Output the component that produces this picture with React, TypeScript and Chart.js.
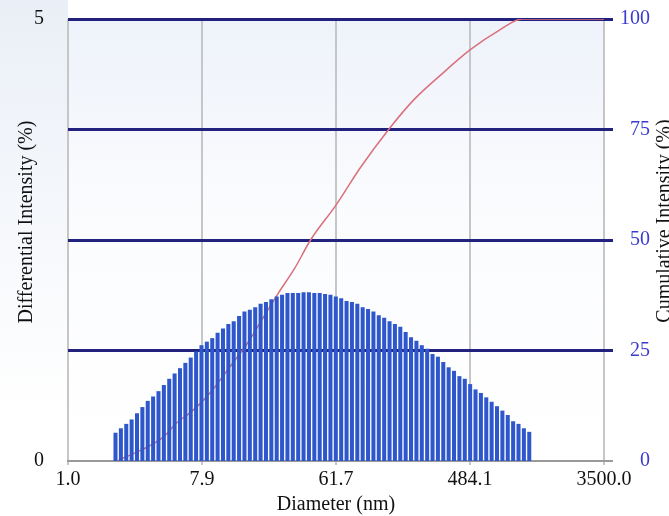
import React, { useEffect, useRef } from 'react';
import { Chart, registerables } from 'chart.js';

Chart.register(...registerables);

// ---- data ----
const xTickLabels = ['1.0', '7.9', '61.7', '484.1', '3500.0'];
const xTickPositions = [0, 1, 2, 3, 4];
const leftTicks = [0, 5];
const rightTicks = [0, 25, 50, 75, 100];

// bin grid (position on the diameter axis, in axis tick units)
const firstBinPos = 0.3545;
const binStep = 0.0401;

// differential intensity (%) of each bin
const differential = [
  0.32, 0.37, 0.42, 0.47, 0.54, 0.61, 0.68, 0.73, 0.79, 0.86,
  0.93, 0.99, 1.05, 1.11, 1.17, 1.24, 1.31, 1.35, 1.39, 1.45,
  1.50, 1.55, 1.58, 1.64, 1.69, 1.71, 1.74, 1.78, 1.80, 1.83,
  1.86, 1.88, 1.90, 1.90, 1.90, 1.91, 1.91, 1.90, 1.90, 1.89,
  1.88, 1.86, 1.84, 1.81, 1.80, 1.78, 1.74, 1.72, 1.69, 1.65,
  1.62, 1.58, 1.55, 1.52, 1.46, 1.40, 1.36, 1.31, 1.27, 1.21,
  1.18, 1.12, 1.06, 1.02, 0.96, 0.93, 0.87, 0.81, 0.77, 0.72,
  0.67, 0.62, 0.57, 0.52, 0.45, 0.42, 0.37, 0.33,
];

// cumulative intensity (%) curve
const cumPos = [0.37, 0.43, 0.55, 0.71, 0.81, 0.91, 0.99, 1.08, 1.19, 1.34, 1.46, 1.57, 1.69, 1.81, 2.0, 2.18, 2.39, 2.58, 2.78, 3.0, 3.22, 3.39, 4.0];
const cumulative = [0, 0.9, 2.5, 5.4, 8.6, 10.9, 13.1, 16.1, 20.6, 26.7, 32.6, 38.0, 43.5, 50.0, 57.9, 66.3, 74.9, 81.7, 87.3, 93.0, 97.5, 100, 100];

const xTitle = 'Diameter (nm)';
const leftTitle = 'Differential Intensity (%)';
const rightTitle = 'Cumulative Intensity (%)';

const FONT_FAMILY = "'Liberation Serif', 'Times New Roman', serif";

const decorPlugin = {
  id: 'decor',
  beforeDraw(chart: any) {
    const { ctx, width, height, chartArea } = chart;
    ctx.save();
    ctx.fillStyle = '#ffffff';
    ctx.fillRect(0, 0, width, height);
    const g1 = ctx.createLinearGradient(0, 0, 0, height * 0.8);
    g1.addColorStop(0, '#eaeff7');
    g1.addColorStop(1, '#ffffff');
    ctx.fillStyle = g1;
    ctx.fillRect(0, 0, 68, height * 0.8);
    const g2 = ctx.createLinearGradient(0, chartArea.top, 0, chartArea.bottom);
    g2.addColorStop(0, '#eef2fa');
    g2.addColorStop(0.45, '#fbfcfe');
    g2.addColorStop(1, '#ffffff');
    ctx.fillStyle = g2;
    ctx.fillRect(chartArea.left, chartArea.top, chartArea.right - chartArea.left, chartArea.bottom - chartArea.top);
    ctx.restore();
  },
  afterDraw(chart: any) {
    const { ctx, chartArea } = chart;
    ctx.save();
    ctx.font = `20px ${FONT_FAMILY}`;
    ctx.fillStyle = '#111111';
    ctx.textAlign = 'center';
    ctx.textBaseline = 'middle';
    ctx.fillText(xTitle, (chartArea.left + chartArea.right) / 2, 505);

    ctx.save();
    ctx.translate(27, 222);
    ctx.rotate(-Math.PI / 2);
    ctx.fillText(leftTitle, 0, 0);
    ctx.restore();

    ctx.save();
    ctx.translate(670, 221);
    ctx.rotate(-Math.PI / 2);
    ctx.textBaseline = 'alphabetic';
    ctx.fillText(rightTitle, 0, 0);
    ctx.restore();
    ctx.restore();
  },
};

export default function App() {
  const ref = useRef<HTMLCanvasElement>(null);

  useEffect(() => {
    const font = { family: FONT_FAMILY, size: 20 };
    const barData = differential.map((v, i) => ({ x: firstBinPos + i * binStep, y: v }));
    const lineData = cumulative.map((v, i) => ({ x: cumPos[i], y: v }));

    const chart = new Chart(ref.current as HTMLCanvasElement, {
      type: 'bar',
      data: {
        datasets: [
          {
            type: 'bar',
            label: 'Differential Intensity',
            data: barData,
            yAxisID: 'y',
            backgroundColor: '#2e57cb',
            borderWidth: 0,
            barPercentage: 0.75,
            categoryPercentage: 1,
            order: 0,
          } as any,
          {
            type: 'line',
            label: 'Cumulative Intensity',
            data: lineData,
            yAxisID: 'y2',
            borderColor: '#d9707c',
            borderWidth: 1.5,
            pointRadius: 0,
            cubicInterpolationMode: 'monotone',
            fill: false,
            order: 1,
          } as any,
        ],
      },
      options: {
        animation: false,
        responsive: true,
        maintainAspectRatio: false,
        layout: { padding: { top: 19, left: 0, right: 19, bottom: 0 } },
        plugins: {
          legend: { display: false },
          tooltip: { enabled: false },
        },
        scales: {
          x: {
            type: 'linear',
            min: 0,
            max: 4,
            offset: false,
            afterBuildTicks: (s: any) => {
              s.ticks = xTickPositions.map((v) => ({ value: v }));
            },
            afterFit: (s: any) => {
              s.height = 55;
            },
            ticks: {
              font,
              color: '#111111',
              padding: 3,
              maxRotation: 0,
              autoSkip: false,
              callback: (v: any) => xTickLabels[xTickPositions.indexOf(Math.round(Number(v)))] ?? '',
            },
            grid: { color: '#c6c6c6', lineWidth: 2, tickLength: 4, offset: false },
            border: { display: true, color: '#9a9a9a', width: 2 },
          },
          y: {
            type: 'linear',
            position: 'left',
            min: 0,
            max: 5,
            afterBuildTicks: (s: any) => {
              s.ticks = leftTicks.map((v) => ({ value: v }));
            },
            afterFit: (s: any) => {
              s.width = 68;
              s.paddingTop = 0;
              s.paddingBottom = 0;
            },
            ticks: { font, color: '#111111', padding: 16 },
            grid: { display: false },
            border: { display: false },
          },
          y2: {
            type: 'linear',
            position: 'right',
            min: 0,
            max: 100,
            afterBuildTicks: (s: any) => {
              s.ticks = rightTicks.map((v) => ({ value: v }));
            },
            afterFit: (s: any) => {
              s.width = 46;
              s.paddingTop = 0;
              s.paddingBottom = 0;
            },
            ticks: { font, color: '#3a3ad2', padding: 7, crossAlign: 'far' },
            grid: {
              color: (c: any) => (c.tick && c.tick.value === 0 ? '#9a9a9a' : '#22227e'),
              lineWidth: (c: any) => (c.tick && c.tick.value === 0 ? 2 : 3),
              tickLength: 9,
            },
            border: { display: false },
          },
        } as any,
      },
      plugins: [decorPlugin],
    });

    return () => chart.destroy();
  }, []);

  return (
    <div style={{ position: 'absolute', left: 0, top: 0, width: 669, height: 516 }}>
      <canvas ref={ref} />
    </div>
  );
}
